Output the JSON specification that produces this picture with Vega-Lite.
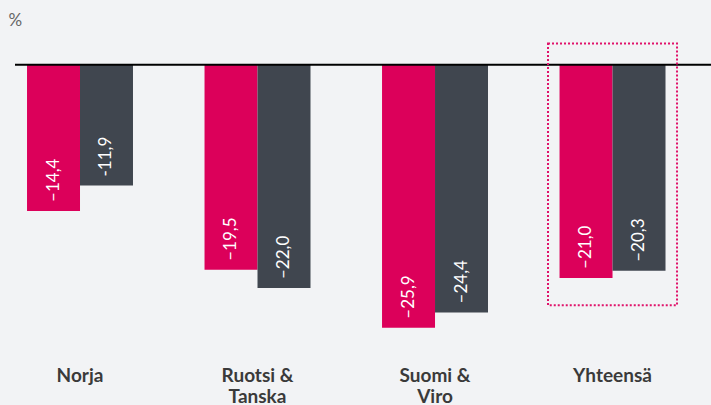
{
  "$schema": "https://vega.github.io/schema/vega-lite/v6.json",
  "width": 696,
  "height": 325,
  "autosize": "none",
  "padding": {"left": 15, "top": 24, "right": 0, "bottom": 56},
  "background": "#f2f3f5",
  "config": {"view": {"stroke": null}, "font": "Lato"},
  "datasets": {
    "bars": [
      {"group": "Norja", "series": "Sarja 1", "value": -14.4, "label": "–14,4"},
      {"group": "Norja", "series": "Sarja 2", "value": -11.9, "label": "-11,9"},
      {"group": "Ruotsi & Tanska", "series": "Sarja 1", "value": -20.2, "label": "–19,5"},
      {"group": "Ruotsi & Tanska", "series": "Sarja 2", "value": -22.0, "label": "–22,0"},
      {"group": "Suomi & Viro", "series": "Sarja 1", "value": -25.9, "label": "–25,9"},
      {"group": "Suomi & Viro", "series": "Sarja 2", "value": -24.4, "label": "–24,4"},
      {"group": "Yhteensä", "series": "Sarja 1", "value": -21.0, "label": "–21,0"},
      {"group": "Yhteensä", "series": "Sarja 2", "value": -20.3, "label": "–20,3"}
    ],
    "box": [{"group": "Yhteensä", "top": 2.07, "bottom": -23.7, "zero": 0}]
  },
  "layer": [
    {
      "data": {"name": "bars"},
      "mark": {"type": "bar"},
      "encoding": {
        "x": {
          "field": "group", "type": "nominal", "sort": null,
          "scale": {"paddingInner": 0.403, "paddingOuter": 0.162, "align": 0.209},
          "axis": {
            "title": null, "domain": false, "ticks": false, "labelAngle": 0,
            "labelFont": "Lato", "labelFontWeight": "bold", "labelFontSize": 19,
            "labelColor": "#3a3a3a", "labelPadding": 17, "labelLineHeight": 21,
            "labelExpr": "split(replace(datum.label, '& ', '&|'), '|')"
          }
        },
        "xOffset": {"field": "series", "type": "nominal", "scale": {"paddingInner": 0, "paddingOuter": 0}},
        "y": {
          "field": "value", "type": "quantitative",
          "scale": {"domain": [-28, 4], "nice": false, "zero": false},
          "axis": {
            "labels": false, "ticks": false, "domain": false, "grid": false,
            "title": "%", "titleAngle": 0, "titleX": -7, "titleY": -12,
            "titleAlign": "left", "titleBaseline": "top", "titleFontWeight": "normal",
            "titleFontSize": 17, "titleColor": "#666666", "titleFont": "Lato"
          }
        },
        "color": {
          "field": "series", "type": "nominal",
          "scale": {"range": ["#dc005a", "#40464f"]},
          "legend": null
        }
      }
    },
    {
      "data": {"name": "bars"},
      "mark": {"type": "text", "angle": 270, "align": "left", "baseline": "middle", "dx": 9, "color": "white", "fontSize": 17, "font": "Lato"},
      "encoding": {
        "x": {"field": "group", "type": "nominal", "sort": null},
        "xOffset": {"field": "series", "type": "nominal"},
        "y": {"field": "value", "type": "quantitative"},
        "text": {"field": "label"}
      }
    },
    {
      "data": {"name": "box"},
      "mark": {"type": "rule", "color": "#000000", "strokeWidth": 2},
      "encoding": {"y": {"field": "zero", "type": "quantitative"}}
    },
    {
      "data": {"name": "box"},
      "mark": {"type": "bar", "width": 129, "fill": "transparent", "stroke": "#e0126a", "strokeWidth": 2, "strokeDash": [2, 2]},
      "encoding": {
        "x": {"field": "group", "type": "nominal"},
        "y": {"field": "top", "type": "quantitative"},
        "y2": {"field": "bottom"}
      }
    }
  ]
}
